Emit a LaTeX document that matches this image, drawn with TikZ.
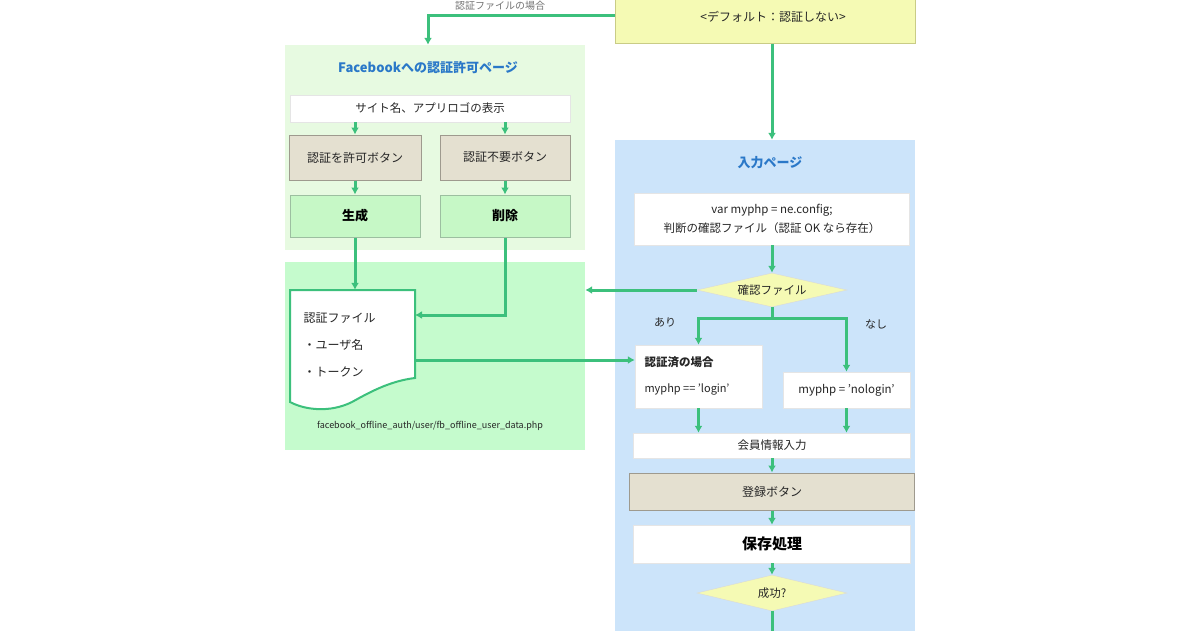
\documentclass[tikz,border=0pt]{standalone}
\usepackage{fontspec}
\setmainfont{Noto Sans CJK JP}
\usetikzlibrary{shapes.geometric,arrows.meta,calc}
\definecolor{lnG}{HTML}{3CC07C}
\definecolor{pG1}{HTML}{E7FAE1}
\definecolor{pG2}{HTML}{C5FBCD}
\definecolor{pB}{HTML}{CCE4FA}
\definecolor{yel}{HTML}{F5FAB4}
\definecolor{yelB}{HTML}{C9CC86}
\definecolor{btnF}{HTML}{E4E0D0}
\definecolor{btnB}{HTML}{9E9A8E}
\definecolor{gbF}{HTML}{C6F8C6}
\definecolor{gbB}{HTML}{9CBFA0}
\definecolor{ttl}{HTML}{2A78C8}
\definecolor{txt}{HTML}{262626}
\begin{document}
\begin{tikzpicture}[x=1pt,y=-1pt,
  panel/.style={inner sep=0pt,draw=none},
  titletext/.style={text=ttl,font=\fontsize{13}{15}\selectfont\bfseries},
  wbox/.style={fill=white,draw=black!10,inner sep=2pt,font=\fontsize{11.5}{14}\selectfont,text=txt,align=center},
  btnbox/.style={fill=btnF,draw=btnB,line width=1pt,inner sep=2pt,font=\fontsize{12}{14}\selectfont,text=txt},
  gbox/.style={fill=gbF,draw=gbB,line width=1pt,inner sep=2pt,font=\fontsize{13}{15}\selectfont\bfseries},
  dia/.style={diamond,aspect=4.4,fill=yel,draw=black!15,inner sep=1pt,font=\fontsize{11.5}{13}\selectfont,text=txt},
  conn/.style={draw=lnG,line width=3pt,-{Latex[length=7pt,width=8pt]}},
  lbl/.style={font=\fontsize{11}{13}\selectfont,text=txt}]
\useasboundingbox (0,0) rectangle (1200,630);
\clip (0,0) rectangle (1200,630);

% panels
\node[panel,fill=pG1,minimum width=300pt,minimum height=205pt] (lp) at (435,147.5) {};
\node[panel,fill=pG2,minimum width=300pt,minimum height=188pt] (lp2) at (435,356) {};
\node[panel,fill=pB,minimum width=300pt,minimum height=500pt] (bp) at (765,390) {};

% top yellow box
\node[fill=yel,draw=yelB,line width=1pt,minimum width=300pt,minimum height=54pt,inner sep=0pt] (yb) at (765,16) {};
\node[lbl,font=\fontsize{12}{14}\selectfont] (ybt) at (773,17) {<デフォルト：認証しない>};
\node[lbl,text=black!55,font=\fontsize{10}{12}\selectfont] (yblbl) at (500,6) {認証ファイルの場合};

% left panel content
\node[titletext] (lpt) at (428,68) {Facebookへの認証許可ページ};
\node[wbox,minimum width=280pt,minimum height=27pt] (site) at (430,108.5) {サイト名、アプリロゴの表示};
\node[btnbox,minimum width=132pt,minimum height=45pt] (btn1) at (355,157.5) {認証を許可ボタン};
\node[btnbox,minimum width=130pt,minimum height=45pt] (btn2) at (505,157.5) {認証不要ボタン};
\node[gbox,minimum width=130pt,minimum height=42pt] (g1) at (355,216) {生成};
\node[gbox,minimum width=130pt,minimum height=42pt] (g2) at (505,216) {削除};

% document shape
\node[panel,minimum width=125pt,minimum height=110pt] (doc) at (352.5,345) {};
\draw[draw=lnG,line width=2pt,fill=white]
  (290,290) -- (415,290) -- (415,378)
  .. controls (390,381) and (370,392) .. (352,402)
  .. controls (330,413) and (305,410) .. (290,402) -- cycle;
\node[lbl,anchor=west,font=\fontsize{12}{14}\selectfont] (dl1) at (300,318) {認証ファイル};
\node[lbl,anchor=west,font=\fontsize{12}{14}\selectfont] (dl2) at (300,345) {・ユーザ名};
\node[lbl,anchor=west,font=\fontsize{12}{14}\selectfont] (dl3) at (300,372) {・トークン};
\node[lbl,font=\fontsize{9}{11}\selectfont] (cap) at (430,426) {facebook\_offline\_auth/user/fb\_offline\_user\_data.php};

% right panel content
\node[titletext] (bpt) at (770,163) {入力ページ};
\node[wbox,minimum width=275pt,minimum height=52pt,font=\fontsize{11.5}{19}\selectfont] (wb1) at (772,219)
  {var myphp = ne.config;\\判断の確認ファイル（認証 OK なら存在）};
\node[dia,minimum width=150pt,minimum height=34pt] (d1) at (772,290) {確認ファイル};
\node[wbox,minimum width=127pt,minimum height=63pt] (auth) at (698.5,376.5) {};
\node[lbl,anchor=west,font=\fontsize{11.5}{13}\selectfont\bfseries] (auth1) at (641,362) {認証済の場合};
\node[lbl,anchor=west] (auth2) at (641,389) {myphp == 'login'};
\node[wbox,minimum width=127pt,minimum height=36pt] (none) at (846.5,390) {myphp = 'nologin'};
\node[lbl] (lya) at (665,322) {あり};
\node[lbl] (lyb) at (876,324) {なし};
\node[wbox,minimum width=277pt,minimum height=25pt] (mem) at (772,445.5) {会員情報入力};
\node[btnbox,minimum width=285pt,minimum height=37pt] (btn3) at (772,491.5) {登録ボタン};
\node[wbox,minimum width=277pt,minimum height=38pt,font=\fontsize{15}{17}\selectfont\bfseries,text=black] (save) at (772,544) {保存処理};
\node[dia,minimum width=150pt,minimum height=36pt] (d2) at (772,593) {成功?};

% connectors
\draw[conn] (yb.west |- 0,15) -| (lp.north -| 428,0);
\draw[conn] (yb.south -| d1.north) -- (bp.north -| d1.north);
\draw[conn] (btn1.north |- site.south) -- (btn1.north);
\draw[conn] (btn2.north |- site.south) -- (btn2.north);
\draw[conn] (btn1.south) -- (g1.north);
\draw[conn] (btn2.south) -- (g2.north);
\draw[conn] (g1.south) -- (g1.south |- doc.north);
\coordinate (docin) at (415,315);
\coordinate (docout) at (415,360);
\draw[conn] (g2.south) |- (docin);
\draw[conn] (docout) -- (docout -| auth.west);
\draw[conn] (wb1.south) -- (d1.north);
\draw[conn] (d1.west) -- (d1.west -| lp2.east);
\draw[conn] (d1.south) -- ++(0,11) -| (auth.north);
\draw[conn] (d1.south) -- ++(0,11) -| (none.north);
\draw[conn] (auth.south) -- (auth.south |- mem.north);
\draw[conn] (none.south) -- (none.south |- mem.north);
\draw[conn] (mem.south) -- (btn3.north);
\draw[conn] (btn3.south) -- (save.north);
\draw[conn] (save.south) -- (d2.north);
\draw[draw=lnG,line width=3pt] (d2.south) -- ++(0,30);
\end{tikzpicture}
\end{document}
